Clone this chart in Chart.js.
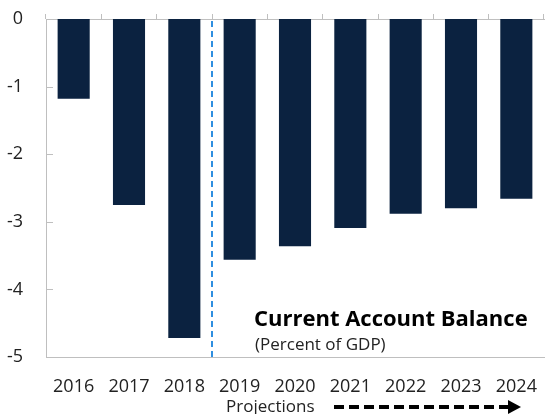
<!DOCTYPE html>
<html>
<head>
<meta charset="utf-8">
<script src="https://cdn.jsdelivr.net/npm/chart.js@4.4.1/dist/chart.umd.min.js"></script>
<style>
  html, body { margin: 0; padding: 0; background: #fff; }
  #wrap { width: 545px; height: 414px; position: relative; }
</style>
</head>
<body>
<div id="wrap"><canvas id="chart" width="545" height="414"></canvas></div>
<script>
// chart data
var years = ['2016', '2017', '2018', '2019', '2020', '2021', '2022', '2023', '2024'];
var balance = [-1.18, -2.75, -4.72, -3.56, -3.36, -3.09, -2.88, -2.80, -2.66];
var yTicks = [0, -1, -2, -3, -4, -5];
var projStart = 3; // index of first projected year

var font = "'Open Sans', 'Noto Sans', sans-serif";
var axisGray = '#bfbfbf';

// extra drawing: inside ticks, projection divider, title text, arrow
var decorations = {
  id: 'decorations',
  afterDatasetsDraw: function(chart) {
    var ctx = chart.ctx;
    var x = chart.scales.x;
    var y = chart.scales.y;
    var area = chart.chartArea;
    ctx.save();

    // y tick marks pointing into the plot
    ctx.strokeStyle = axisGray;
    ctx.lineWidth = 1;
    yTicks.forEach(function(v) {
      var py = Math.round(y.getPixelForValue(v)) + 0.5;
      ctx.beginPath();
      ctx.moveTo(area.left, py);
      ctx.lineTo(area.left + 7, py);
      ctx.stroke();
    });

    // dashed line between actual and projected years
    var dx = (x.getPixelForValue(projStart - 1) + x.getPixelForValue(projStart)) / 2;
    ctx.strokeStyle = '#2f8fe0';
    ctx.lineWidth = 2;
    ctx.setLineDash([6, 4]);
    ctx.beginPath();
    ctx.moveTo(dx, area.top + 2);
    ctx.lineTo(dx, area.bottom + 1);
    ctx.stroke();
    ctx.setLineDash([]);

    // title inside plot
    ctx.fillStyle = '#000';
    ctx.textBaseline = 'alphabetic';
    ctx.textAlign = 'left';
    ctx.font = 'bold 22px ' + font;
    ctx.fillText('Current Account Balance', 254, 326);
    ctx.fillStyle = '#222';
    ctx.font = '17px ' + font;
    ctx.fillText('(Percent of GDP)', 255, 350);

    // projections label and dashed arrow
    ctx.font = '17px ' + font;
    ctx.fillText('Projections', 226, 412);
    ctx.strokeStyle = '#000';
    ctx.lineWidth = 4;
    ctx.setLineDash([10, 5]);
    ctx.beginPath();
    ctx.moveTo(334, 407);
    ctx.lineTo(510, 407);
    ctx.stroke();
    ctx.setLineDash([]);
    ctx.fillStyle = '#000';
    ctx.beginPath();
    ctx.moveTo(508, 400);
    ctx.lineTo(521, 407);
    ctx.lineTo(508, 414);
    ctx.closePath();
    ctx.fill();

    ctx.restore();
  }
};

var ctx = document.getElementById('chart').getContext('2d');
window.myChart = new Chart(ctx, {
  type: 'bar',
  data: {
    labels: years,
    datasets: [{
      label: 'Current Account Balance',
      data: balance,
      backgroundColor: '#0b2240',
      borderWidth: 0,
      categoryPercentage: 1,
      barPercentage: 0.58
    }]
  },
  options: {
    responsive: false,
    animation: false,
    layout: { padding: { top: 14, right: 1, left: 0, bottom: 0 } },
    plugins: {
      legend: { display: false },
      tooltip: { enabled: false }
    },
    scales: {
      xTop: {
        type: 'category',
        position: 'top',
        offset: true,
        grid: { display: true, drawOnChartArea: false, drawTicks: true, tickLength: 5, color: axisGray, offset: true },
        border: { display: true, color: axisGray },
        ticks: { display: false }
      },
      x: {
        position: 'bottom',
        offset: true,
        grid: { display: false },
        border: { display: true, color: axisGray },
        ticks: { color: '#222', font: { family: font, size: 18 }, padding: 11, maxRotation: 0 },
        afterFit: function(s) { s.height = 57; s.paddingLeft = 0; s.paddingRight = 0; }
      },
      y: {
        min: -5,
        max: 0,
        grid: { display: false },
        border: { display: true, color: axisGray },
        ticks: {
          stepSize: 1,
          color: '#222',
          padding: 15,
          font: { family: font, size: 18 }
        },
        afterFit: function(s) { s.width = 46; s.paddingTop = 0; s.paddingBottom = 0; }
      }
    }
  },
  plugins: [decorations]
});
</script>
</body>
</html>
